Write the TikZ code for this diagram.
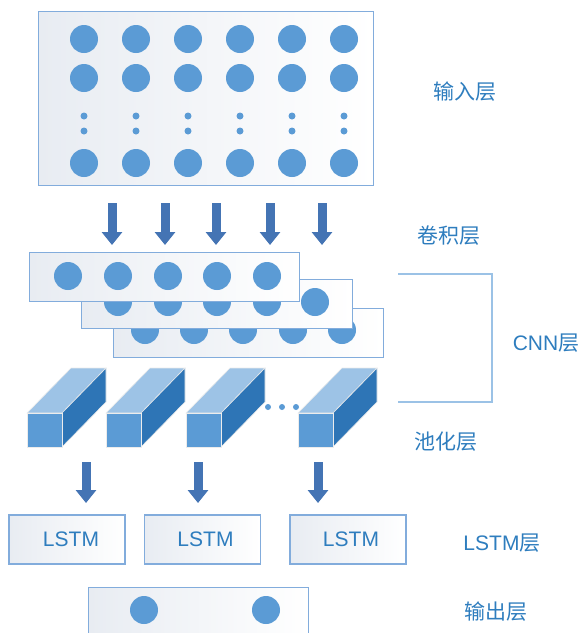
\documentclass[tikz,border=0pt]{standalone}
\usepackage{fontspec}
\setmainfont{Liberation Sans}
\newfontfamily\cjk{Noto Sans CJK SC}
\usetikzlibrary{arrows.meta}
\definecolor{circ}{RGB}{91,155,213}
\definecolor{boxline}{RGB}{130,172,220}
\definecolor{panelgray}{RGB}{232,236,242}
\definecolor{arrowc}{RGB}{68,116,180}
\definecolor{txt}{RGB}{46,125,190}
\definecolor{cubefront}{RGB}{91,155,213}
\definecolor{cubetop}{RGB}{157,195,230}
\definecolor{cubeside}{RGB}{46,117,182}
\definecolor{bracketc}{RGB}{155,194,230}
\begin{document}
\begin{tikzpicture}[x=1pt,y=-1pt,
  panel/.style={draw=boxline, line width=1.2pt, left color=panelgray, middle color=white, right color=white},
  dot/.style={fill=circ},
  bigarrow/.style={draw=arrowc, line width=9pt, -{Triangle[width=20pt,length=13pt]}},
  lbl/.style={text=txt, font=\fontsize{21}{21}\selectfont, inner sep=0pt},
  lstmbox/.style={panel, minimum width=116pt, minimum height=49pt, inner sep=0pt,
    text=txt, font=\fontsize{21}{21}\selectfont},
  cubeedge/.style={draw=white!85!gray, line width=0.6pt}
]
\useasboundingbox (0,0) rectangle (585,633);
\begin{scope}
\clip (0,0) rectangle (585,633);

% ---------- input layer ----------
\node[panel, anchor=north west, minimum width=335pt, minimum height=174pt, inner sep=0pt] (inbox) at (38,11) {};
\foreach \x in {84,136,188,240,292,344}{
  \fill[dot] (\x,39) circle[radius=14pt];
  \fill[dot] (\x,78) circle[radius=14pt];
  \fill[dot] (\x,116) circle[radius=3.5pt];
  \fill[dot] (\x,131) circle[radius=3.5pt];
  \fill[dot] (\x,163) circle[radius=14pt];
}

% ---------- arrows input -> conv ----------
\foreach \x [count=\i] in {112,165,216,270,322}{
  \coordinate (ca\i) at (\x,203);
  \coordinate (cb\i) at (\x,245);
  \draw[bigarrow] (ca\i) -- (cb\i);
}

% ---------- conv layers ----------
\node[panel, anchor=north west, minimum width=270pt, minimum height=49pt, inner sep=0pt] (conv3) at (113,308) {};
\foreach \x in {145,194,243,293,342} \fill[dot] (\x,330) circle[radius=14pt];
\node[panel, anchor=north west, minimum width=271pt, minimum height=49pt, inner sep=0pt] (conv2) at (81,279) {};
\foreach \x in {118,168,217,267,315} \fill[dot] (\x,302) circle[radius=14pt];
\node[panel, anchor=north west, minimum width=270pt, minimum height=49pt, inner sep=0pt] (conv1) at (29,252) {};
\foreach \x in {68,118,168,217,267} \fill[dot] (\x,276) circle[radius=14pt];

% ---------- bracket ----------
\draw[bracketc, line width=1.5pt] (398,274) -- (492,274) -- (492,402) -- (398,402);

% ---------- pooling cubes ----------
\foreach \x in {27,106,186,298}{
  \filldraw[cubeedge, fill=cubetop] (\x,413) -- ({\x+44},368) -- ({\x+79},368) -- ({\x+35},413) -- cycle;
  \filldraw[cubeedge, fill=cubeside] ({\x+35},413) -- ({\x+79},368) -- ({\x+79},402) -- ({\x+35},447) -- cycle;
  \filldraw[cubeedge, fill=cubefront] (\x,413) rectangle ({\x+35},447);
}
\foreach \x in {268,282,296} \fill[dot] (\x,407) circle[radius=3pt];

% ---------- arrows pool -> LSTM ----------
\foreach \x [count=\i] in {86,198,318}{
  \coordinate (pa\i) at (\x,462);
  \coordinate (pb\i) at (\x,503);
  \draw[bigarrow] (pa\i) -- (pb\i);
}

% ---------- LSTM ----------
\node[lstmbox] (lstm1) at (67,539.5) {\hspace*{8pt}LSTM};
\node[lstmbox] (lstm2) at (202.5,539.5) {\hspace*{6pt}LSTM};
\node[lstmbox] (lstm3) at (348,539.5) {\hspace*{6pt}LSTM};

% ---------- output ----------
\node[panel, anchor=north west, minimum width=220pt, minimum height=70pt, inner sep=0pt] (outbox) at (88,587) {};
\fill[dot] (144,610) circle[radius=14pt];
\fill[dot] (266,610) circle[radius=14pt];

% ---------- labels ----------
\node[lbl] (l1) at (465,92) {\cjk 输入层};
\node[lbl] (l2) at (449,236) {\cjk 卷积层};
\node[lbl] (l3) at (546,343) {CNN{\cjk 层}};
\node[lbl] (l4) at (446,442) {\cjk 池化层};
\node[lbl] (l5) at (502,543) {LSTM{\cjk 层}};
\node[lbl] (l6) at (496,612) {\cjk 输出层};
\end{scope}
\end{tikzpicture}
\end{document}
